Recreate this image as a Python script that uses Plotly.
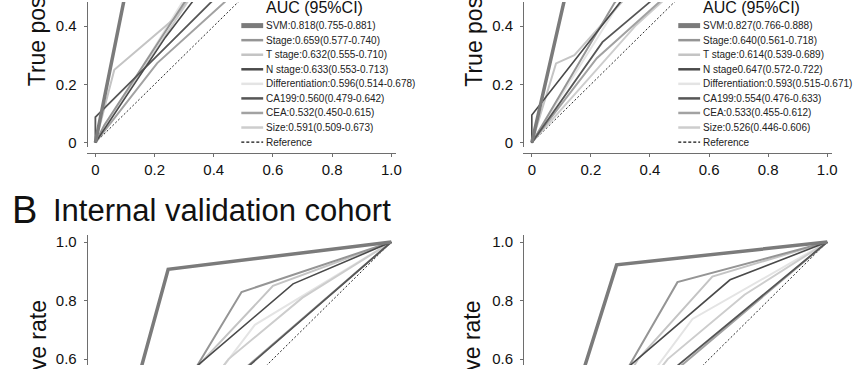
import plotly.graph_objects as go

W, H = 866, 369
FONT = "Liberation Sans, Arial, sans-serif"

# ---------------- data ----------------
series_names = ["SVM", "Stage", "T stage", "N stage", "Differentiation", "CA199", "CEA", "Size"]

# top-left panel (A, left)
tl_fpr = {
    "SVM": [0, 0.157, 1],
    "Stage": [0, 0.03, 0.30, 0.55, 1],
    "T stage": [0, 0.064, 0.265, 0.50, 1],
    "N stage": [0, 0.237, 0.55, 1],
    "Differentiation": [0, 0.30, 1],
    "CA199": [0, 0, 0.392, 1],
    "CEA": [0, 0.209, 1],
    "Size": [0, 0.33, 1],
}
tl_tpr = {
    "SVM": [0, 0.793, 1],
    "Stage": [0, 0.06, 0.48, 0.78, 1],
    "T stage": [0, 0.25, 0.424, 0.75, 1],
    "N stage": [0, 0.362, 0.78, 1],
    "Differentiation": [0, 0.492, 1],
    "CA199": [0, 0.088, 0.483, 1],
    "CEA": [0, 0.273, 1],
    "Size": [0, 0.512, 1],
}
# top-right panel (A, right)
tr_fpr = {
    "SVM": [0, 0.19, 1],
    "Stage": [0, 0.28, 0.55, 1],
    "T stage": [0, 0.082, 0.144, 0.32, 1],
    "N stage": [0, 0, 0.30, 0.60, 1],
    "Differentiation": [0, 0.30, 1],
    "CA199": [0, 0.239, 0.40, 1],
    "CEA": [0, 0.22, 1],
    "Size": [0, 0.35, 1],
}
tr_tpr = {
    "SVM": [0, 0.844, 1],
    "Stage": [0, 0.48, 0.80, 1],
    "T stage": [0, 0.272, 0.30, 0.50, 1],
    "N stage": [0, 0.095, 0.483, 0.83, 1],
    "Differentiation": [0, 0.486, 1],
    "CA199": [0, 0.345, 0.483, 1],
    "CEA": [0, 0.29, 1],
    "Size": [0, 0.40, 1],
}
# bottom-left panel (B, left)
bl_fpr = {
    "SVM": [0, 0.246, 1],
    "Stage": [0, 0.494, 1],
    "T stage": [0, 0.34, 0.60, 1],
    "N stage": [0, 0.33, 0.668, 1],
    "Differentiation": [0, 0.539, 1],
    "CA199": [0, 0.42, 1],
    "CEA": [0, 0.45, 1],
    "Size": [0, 0.45, 0.70, 1],
}
bl_tpr = {
    "SVM": [0, 0.907, 1],
    "Stage": [0, 0.829, 1],
    "T stage": [0, 0.57, 0.85, 1],
    "N stage": [0, 0.565, 0.857, 1],
    "Differentiation": [0, 0.717, 1],
    "CA199": [0, 0.49, 1],
    "CEA": [0, 0.52, 1],
    "Size": [0, 0.60, 0.81, 1],
}
# bottom-right panel (B, right)
br_fpr = {
    "SVM": [0, 0.287, 1],
    "Stage": [0, 0.493, 1],
    "T stage": [0, 0.36, 0.611, 1],
    "N stage": [0, 0.30, 0.671, 1],
    "Differentiation": [0, 0.544, 1],
    "CA199": [0, 0.46, 1],
    "CEA": [0, 0.45, 1],
    "Size": [0, 0.46, 0.72, 1],
}
br_tpr = {
    "SVM": [0, 0.922, 1],
    "Stage": [0, 0.863, 1],
    "T stage": [0, 0.60, 0.882, 1],
    "N stage": [0, 0.55, 0.871, 1],
    "Differentiation": [0, 0.737, 1],
    "CA199": [0, 0.55, 1],
    "CEA": [0, 0.53, 1],
    "Size": [0, 0.60, 0.82, 1],
}
ref_x = [0, 1]
ref_y = [0, 1]

legend_left = [
    "SVM:0.818(0.755-0.881)", "Stage:0.659(0.577-0.740)", "T stage:0.632(0.555-0.710)",
    "N stage:0.633(0.553-0.713)", "Differentiation:0.596(0.514-0.678)", "CA199:0.560(0.479-0.642)",
    "CEA:0.532(0.450-0.615)", "Size:0.591(0.509-0.673)", "Reference",
]
legend_right = [
    "SVM:0.827(0.766-0.888)", "Stage:0.640(0.561-0.718)", "T stage:0.614(0.539-0.689)",
    "N stage0.647(0.572-0.722)", "Differentiation:0.593(0.515-0.671)", "CA199:0.554(0.476-0.633)",
    "CEA:0.533(0.455-0.612)", "Size:0.526(0.446-0.606)", "Reference",
]
x_ticks = [0, 0.2, 0.4, 0.6, 0.8, 1.0]
x_ticktext = ["0", "0.2", "0.4", "0.6", "0.8", "1.0"]
y_ticks_top = [0, 0.2, 0.4]
y_ticktext_top = ["0", "0.2", "0.4"]
y_ticks_bot = [0.6, 0.8, 1.0]
y_ticktext_bot = ["0.6", "0.8", "1.0"]

# ---------------- styles ----------------
colors = {
    "SVM": "#7b7b7b", "Stage": "#959595", "T stage": "#c4c4c4", "N stage": "#4a4a4a",
    "Differentiation": "#e4e4e4", "CA199": "#565656", "CEA": "#a2a2a2", "Size": "#cdcdcd",
}
widths = {
    "SVM": 3.5, "Stage": 2, "T stage": 2, "N stage": 1.6,
    "Differentiation": 2, "CA199": 1.8, "CEA": 2, "Size": 2,
}
key_widths = {
    "SVM": 5, "Stage": 2.5, "T stage": 2.5, "N stage": 2.5,
    "Differentiation": 2.5, "CA199": 2.5, "CEA": 2.5, "Size": 2.5,
}


def px_x(p):
    return p / W


def px_y(p):
    return 1 - p / H


fig = go.Figure()

panels = [
    ("x", "y", tl_fpr, tl_tpr),
    ("x2", "y2", tr_fpr, tr_tpr),
    ("x3", "y3", bl_fpr, bl_tpr),
    ("x4", "y4", br_fpr, br_tpr),
]
draw_order = ["Differentiation", "Size", "T stage", "CEA", "Stage", "CA199", "N stage", "SVM"]
for xa, ya, fx, fy in panels:
    fig.add_trace(go.Scatter(x=ref_x, y=ref_y, xaxis=xa, yaxis=ya, mode="lines",
                             line=dict(color="#111111", width=0.9, dash="2px,2px"),
                             showlegend=False, hoverinfo="skip"))
    for name in draw_order:
        fig.add_trace(go.Scatter(x=fx[name], y=fy[name], xaxis=xa, yaxis=ya, mode="lines",
                                 line=dict(color=colors[name], width=widths[name]),
                                 name=name, showlegend=False))

# axis geometry (pixels)
XL0, XL1 = 87.4, 398.5
XR0, XR1 = 526.9, 837.5
xrange = [-0.029, 1.015]
top_yrange = [(143 - 147) / 296.25, 143 / 296.25]
bot_yrange = [1 - (369 - 244) / 297.5, 1 + 7 / 297.5]

common_axis = dict(showgrid=False, zeroline=False, showline=True, linecolor="#6e6e6e",
                   linewidth=1.2, ticks="outside", ticklen=3, tickcolor="#6e6e6e",
                   tickfont=dict(family=FONT, size=15, color="#111111"), fixedrange=True)

fig.update_layout(
    width=W, height=H, margin=dict(l=0, r=0, t=0, b=0),
    paper_bgcolor="white", plot_bgcolor="white", showlegend=False,
    xaxis=dict(domain=[px_x(XL0), px_x(XL1)], range=xrange, anchor="free", position=px_y(153),
               tickvals=x_ticks, ticktext=x_ticktext, **common_axis),
    yaxis=dict(domain=[px_y(147), 1], range=top_yrange, anchor="free", position=px_x(XL0),
               tickvals=y_ticks_top, ticktext=y_ticktext_top, ticklabelstandoff=4, **common_axis),
    xaxis2=dict(domain=[px_x(XR0), px_x(XR1)], range=xrange, anchor="free", position=px_y(153),
                tickvals=x_ticks, ticktext=x_ticktext, **common_axis),
    yaxis2=dict(domain=[px_y(147), 1], range=top_yrange, anchor="free", position=px_x(XR0),
                tickvals=y_ticks_top, ticktext=y_ticktext_top, ticklabelstandoff=4, **common_axis),
    xaxis3=dict(domain=[px_x(XL0), px_x(XL1)], range=xrange, anchor="y3", visible=False),
    yaxis3=dict(domain=[0, px_y(237)], range=bot_yrange, anchor="free", position=px_x(XL0),
                tickvals=y_ticks_bot, ticktext=y_ticktext_bot, ticklabelstandoff=4, **common_axis),
    xaxis4=dict(domain=[px_x(XR0), px_x(XR1)], range=xrange, anchor="y4", visible=False),
    yaxis4=dict(domain=[0, px_y(237)], range=bot_yrange, anchor="free", position=px_x(XR0),
                tickvals=y_ticks_bot, ticktext=y_ticktext_bot, ticklabelstandoff=4, **common_axis),
)

annotations = []
shapes = []

# y-axis titles (centred on the full 0..1 axis, partly outside the crop)
for cx, cy in [(37.5, -4), (477, -4), (37.5, 393), (475, 393)]:
    annotations.append(dict(xref="paper", yref="paper", x=px_x(cx), y=px_y(cy),
                            text="True positive rate", textangle=-90, showarrow=False,
                            xanchor="center", yanchor="middle",
                            font=dict(family=FONT, size=23, color="#111111")))

# legends (drawn manually: key line + text)
row0, drow = 24.0, 14.8
for (kx0, kx1, tx, labels) in [(243, 265, 266, legend_left), (683, 705, 706, legend_right)]:
    annotations.append(dict(xref="paper", yref="paper", x=px_x(tx), y=px_y(5.5),
                            text="AUC (95%CI)", showarrow=False, xanchor="left", yanchor="middle",
                            font=dict(family=FONT, size=16, color="#111111")))
    keys = series_names + ["Reference"]
    for i, (key, lab) in enumerate(zip(keys, labels)):
        yy = row0 + i * drow
        if key == "Reference":
            line = dict(color="#111111", width=1.2, dash="3px,2px")
        else:
            line = dict(color=colors[key], width=key_widths[key])
        shapes.append(dict(type="line", xref="paper", yref="paper",
                           x0=px_x(kx0), x1=px_x(kx1), y0=px_y(yy), y1=px_y(yy), line=line))
        annotations.append(dict(xref="paper", yref="paper", x=px_x(tx), y=px_y(yy),
                                text=lab, showarrow=False, xanchor="left", yanchor="middle",
                                font=dict(family=FONT, size=10, color="#222222")))

# panel label
annotations.append(dict(xref="paper", yref="paper", x=px_x(10), y=px_y(211), text="B",
                        showarrow=False, xanchor="left", yanchor="middle",
                        font=dict(family=FONT, size=38, color="#111111")))
annotations.append(dict(xref="paper", yref="paper", x=px_x(51), y=px_y(212),
                        text="Internal validation cohort", showarrow=False,
                        xanchor="left", yanchor="middle",
                        font=dict(family=FONT, size=31, color="#111111")))

fig.update_layout(annotations=annotations, shapes=shapes)
fig.write_html("out.html", config={"displayModeBar": False},
               post_script="document.body.style.margin='0';")
